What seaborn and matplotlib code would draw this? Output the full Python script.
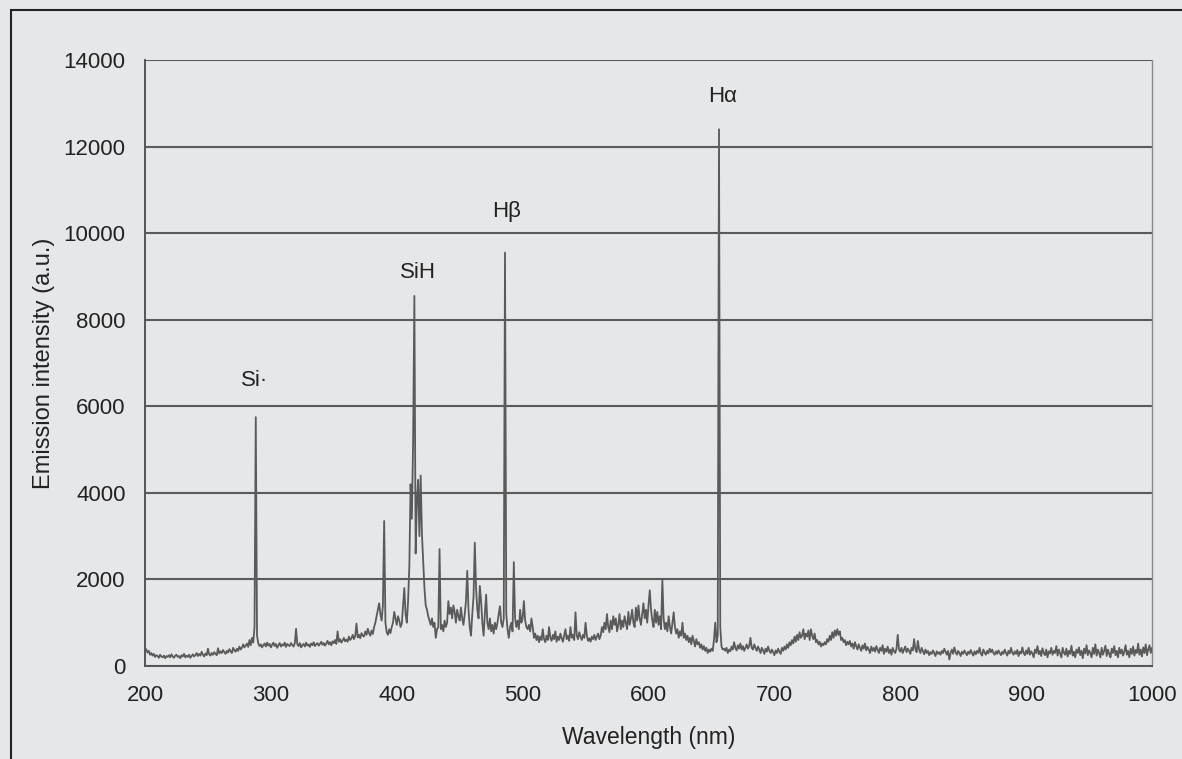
import numpy as np
import pandas as pd
import matplotlib
matplotlib.use("Agg")
import matplotlib.pyplot as plt
import seaborn as sns
from matplotlib.patches import Rectangle

# ---- data (1 nm steps, 200..1000 nm) ----
wl_start, wl_stop = 200, 1000
intensity_200_399 = [
    420, 380, 310, 350, 260, 300, 240, 280, 210, 250, 230, 190, 260, 220, 200, 240, 180, 230, 210, 250,
    200, 270, 220, 190, 240, 260, 210, 230, 180, 250, 220, 280, 200, 240, 210, 260, 190, 230, 270, 220,
    250, 300, 230, 280, 240, 330, 260, 220, 290, 250, 400, 270, 240, 300, 260, 320, 280, 250, 410, 290,
    340, 300, 370, 320, 280, 350, 310, 390, 340, 300, 420, 360, 330, 400, 350, 450, 380, 420, 500, 430,
    470, 520, 440, 600, 480, 650, 540, 900, 5750, 700, 520, 460, 500, 430, 480, 520, 450, 540, 470, 510,
    430, 490, 540, 460, 510, 420, 480, 530, 450, 500, 470, 540, 440, 510, 480, 460, 530, 490, 450, 520,
    860, 500, 460, 530, 430, 480, 510, 450, 540, 470, 500, 440, 520, 480, 550, 460, 500, 530, 470, 510,
    560, 490, 530, 470, 520, 580, 500, 550, 480, 570, 530, 600, 510, 800, 560, 620, 540, 590, 650, 570,
    610, 560, 680, 600, 640, 720, 620, 690, 980, 660, 720, 640, 760, 700, 680, 800, 720, 860, 760, 700,
    820, 740, 900, 1000, 1150, 1300, 1450, 1200, 1050, 1400, 3350, 1000, 780, 720, 850, 760, 900, 1000, 1250, 1100,
]
intensity_400_599 = [
    950, 1150, 1050, 900, 980, 1400, 1800, 1200, 1000, 1500, 2300, 4200, 3400, 5200, 8550, 2600, 3800, 4300, 3000, 4400,
    3050, 2400, 1800, 1400, 1300, 1150, 1050, 950, 1100, 900, 1000, 650, 850, 900, 2700, 850, 950, 800, 1050, 900,
    1000, 1500, 1200, 1350, 1100, 1400, 1250, 1000, 1300, 1150, 1050, 1350, 1100, 950, 1200, 1500, 2200, 1300, 900, 700,
    1200, 1600, 2850, 1800, 1300, 1100, 1850, 1500, 1000, 700, 1200, 1650, 1000, 850, 1100, 800, 950, 750, 1000, 850,
    1000, 1200, 1380, 1000, 900, 1100, 9550, 1200, 850, 650, 900, 1000, 800, 2400, 1100, 900, 1050, 850, 1300, 1000,
    1100, 1500, 1050, 900, 850, 950, 800, 1100, 900, 650, 750, 600, 700, 550, 680, 600, 850, 620, 550, 700,
    600, 900, 650, 580, 720, 620, 800, 560, 680, 600, 750, 640, 560, 700, 850, 620, 700, 580, 900, 650,
    720, 600, 1240, 700, 620, 780, 680, 600, 720, 650, 1000, 700, 580, 640, 560, 680, 620, 720, 600, 680,
    750, 620, 700, 900, 780, 1000, 850, 1200, 900, 780, 1050, 850, 1150, 950, 1100, 800, 950, 1200, 850, 1050,
    900, 1150, 1000, 850, 1250, 950, 1100, 1300, 1000, 900, 1350, 1050, 1400, 1100, 950, 1200, 1450, 1100, 1300, 1000,
]
intensity_600_799 = [
    1400, 1750, 1300, 1050, 900, 1300, 1000, 1250, 950, 1150, 850, 2000, 1100, 850, 1000, 800, 1150, 900, 750, 1000,
    1240, 900, 750, 850, 650, 800, 700, 1000, 650, 750, 600, 700, 550, 650, 500, 700, 580, 450, 620, 500,
    550, 420, 500, 380, 460, 350, 420, 300, 380, 330, 400, 350, 600, 1000, 550, 700, 12400, 900, 450, 380,
    400, 350, 420, 300, 380, 340, 450, 380, 550, 420, 360, 480, 400, 520, 380, 460, 350, 420, 500, 400,
    460, 650, 420, 380, 500, 420, 350, 450, 380, 300, 420, 360, 280, 400, 330, 450, 350, 300, 380, 320,
    250, 360, 300, 400, 330, 280, 420, 350, 450, 380, 500, 420, 550, 480, 600, 520, 680, 560, 720, 600,
    780, 650, 700, 850, 620, 750, 680, 820, 600, 850, 700, 620, 750, 550, 600, 500, 560, 450, 520, 480,
    550, 500, 620, 560, 700, 600, 780, 650, 820, 700, 850, 720, 800, 600, 650, 550, 600, 480, 560, 500,
    580, 450, 520, 400, 550, 460, 380, 500, 420, 350, 480, 400, 520, 360, 440, 380, 300, 450, 350, 420,
    330, 460, 380, 300, 420, 350, 480, 280, 400, 330, 450, 300, 380, 260, 420, 340, 300, 400, 720, 380,
]
intensity_800_1000 = [
    330, 420, 300, 380, 450, 320, 400, 350, 280, 420, 360, 620, 400, 320, 580, 380, 300, 420, 340, 270,
    380, 300, 350, 250, 320, 280, 360, 300, 230, 340, 280, 320, 260, 350, 300, 400, 330, 260, 350, 150,
    300, 380, 280, 430, 320, 260, 350, 300, 230, 330, 280, 360, 300, 250, 330, 280, 370, 300, 240, 340,
    270, 350, 300, 420, 290, 240, 380, 310, 260, 350, 290, 400, 320, 380, 300, 260, 340, 280, 360, 300,
    250, 330, 280, 380, 300, 240, 350, 290, 420, 310, 260, 340, 280, 370, 230, 330, 290, 430, 300, 250,
    360, 280, 420, 260, 340, 290, 200, 380, 300, 460, 270, 350, 230, 410, 300, 250, 380, 200, 340, 290,
    420, 260, 350, 300, 460, 240, 380, 290, 200, 420, 310, 260, 400, 220, 350, 280, 470, 240, 330, 200,
    380, 300, 430, 250, 350, 180, 400, 290, 480, 250, 360, 300, 200, 420, 280, 500, 240, 380, 300, 200,
    420, 260, 350, 470, 230, 380, 280, 200, 400, 300, 460, 250, 350, 200, 420, 290, 380, 240, 330, 480,
    260, 350, 200, 400, 280, 450, 240, 370, 300, 520, 260, 380, 220, 430, 300, 500, 250, 380, 480, 300,
    420,
]

peak_labels = ["Si\u00b7", "SiH", "H\u03b2", "H\u03b1"]
peak_label_x = [287, 417, 487, 659]
peak_label_y = [6600, 9100, 10500, 13150]

x_ticks = [200, 300, 400, 500, 600, 700, 800, 900, 1000]
y_ticks = [0, 2000, 4000, 6000, 8000, 10000, 12000, 14000]

intensity = intensity_200_399 + intensity_400_599 + intensity_600_799 + intensity_800_1000
wavelength = np.arange(wl_start, wl_stop + 1)
df = pd.DataFrame({"Wavelength (nm)": wavelength[:len(intensity)],
                   "Emission intensity (a.u.)": intensity})

# ---- style ----
bg = "#e6e7e9"
sns.set_theme(style="white")
plt.rcParams["font.family"] = ["Liberation Sans", "DejaVu Sans"]
plt.rcParams["font.size"] = 16

fig = plt.figure(figsize=(11.82, 7.59), dpi=100, facecolor=bg)
ax = fig.add_axes([145 / 1182, 1 - 666 / 759, (1152 - 145) / 1182, (666 - 60) / 759])
ax.set_facecolor(bg)

sns.lineplot(data=df, x="Wavelength (nm)", y="Emission intensity (a.u.)", ax=ax,
             color="#5a5a5a", linewidth=1.3, estimator=None, zorder=3)

ax.set_xlim(200, 1000)
ax.set_ylim(0, 14000)
ax.set_xticks(x_ticks)
ax.set_yticks(y_ticks)
ax.tick_params(axis="both", direction="out", length=6, width=1.2, color="#555555",
               labelsize=16, labelcolor="#222222", pad=8)
ax.yaxis.grid(True, color="#5a5a5a", linewidth=1.5, zorder=1)
ax.xaxis.grid(False)
ax.set_axisbelow(True)

for side in ["left", "bottom"]:
    ax.spines[side].set_color("#555555")
    ax.spines[side].set_linewidth(1.4)
ax.spines["right"].set_color("#8a8a8a")
ax.spines["right"].set_linewidth(1.0)
ax.spines["top"].set_visible(False)

ax.set_xlabel("Wavelength (nm)", fontsize=16.5, color="#222222", labelpad=14)
ax.set_ylabel("Emission intensity (a.u.)", fontsize=17, color="#222222", labelpad=6)

for lab, lx, ly in zip(peak_labels, peak_label_x, peak_label_y):
    ax.text(lx, ly, lab, ha="center", va="center", fontsize=16, color="#222222", zorder=4)

# figure border (left & top visible in the reference crop)
fig.patches.append(Rectangle((11 / 1182, -0.05), 1.2, 1 - 10 / 759 + 0.05,
                             transform=fig.transFigure, fill=False,
                             edgecolor="#222222", linewidth=1.5))

fig.savefig("out.png", dpi=100, facecolor=bg)
